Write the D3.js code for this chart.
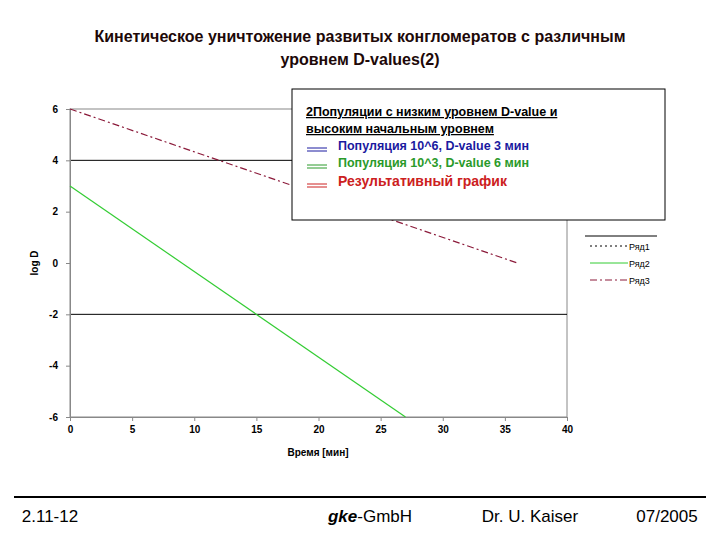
<!DOCTYPE html>
<html><head><meta charset="utf-8">
<script src="https://cdn.jsdelivr.net/npm/d3@7"></script>
<style>body{margin:0;background:#fff}text{font-family:Arial,"Liberation Sans",sans-serif}</style>
</head><body><svg id="c" width="720" height="540"></svg>
<script>
var xTicks = [0, 5, 10, 15, 20, 25, 30, 35, 40];
var yTicks = [-6, -4, -2, 0, 2, 4, 6];
var blackGrid = [4, -2];
var series2 = [[0, 3], [27, -6]];      // Популяция 10^3
var series3 = [[0, 6], [36, 0]];       // результативный
var boxLines = [
  {t: "2Популяции с низким уровнем D-value и", c: "#000", u: true, s: 12.5},
  {t: "высоким начальным уровнем", c: "#000", u: true, s: 12.5},
  {t: "Популяция 10^6, D-value 3 мин", c: "#1a1aa0", s: 12.5, m: true},
  {t: "Популяция 10^3, D-value 6 мин", c: "#2a9a2a", s: 12.5, m: true},
  {t: "Результативный график", c: "#cc2020", s: 14, m: true}
];

var svg = d3.select("#c");
var x = d3.scaleLinear().domain([0, 40]).range([70, 567]);
var y = d3.scaleLinear().domain([-6, 6]).range([417, 109]);

svg.append("text").attr("x", 360).attr("y", 42).attr("text-anchor", "middle")
  .attr("font-size", 16).attr("font-weight", "bold").attr("fill", "#200808")
  .text("Кинетическое уничтожение развитых конгломератов с различным");
svg.append("text").attr("x", 360).attr("y", 65).attr("text-anchor", "middle")
  .attr("font-size", 16).attr("font-weight", "bold").attr("fill", "#200808")
  .text("уровнем D-values(2)");

svg.append("rect").attr("x", 70).attr("y", 109).attr("width", 497).attr("height", 308)
  .attr("fill", "none").attr("stroke", "#888");
svg.selectAll(".g").data(blackGrid).join("line")
  .attr("x1", 70).attr("x2", 567).attr("y1", d => y(d)).attr("y2", d => y(d))
  .attr("stroke", "#000");

var ya = svg.append("g").attr("transform", "translate(70,0)")
  .call(d3.axisLeft(y).tickValues(yTicks).tickFormat(d => String(d)).tickSize(4).tickPadding(8));
var xa = svg.append("g").attr("transform", "translate(0,417)")
  .call(d3.axisBottom(x).tickValues(xTicks).tickFormat(d => String(d)).tickSize(4).tickPadding(5));
[ya, xa].forEach(function(a) {
  a.select(".domain").attr("stroke", "#888");
  a.selectAll("line").attr("stroke", "#888");
  a.selectAll("text").attr("font-size", 10).attr("font-weight", "bold").attr("font-family", "Arial");
});
svg.append("text").attr("x", 318).attr("y", 456).attr("text-anchor", "middle")
  .attr("font-size", 10).attr("font-weight", "bold").text("Время [мин]");
svg.append("text").attr("transform", "translate(38,263) rotate(-90)").attr("text-anchor", "middle")
  .attr("font-size", 10).attr("font-weight", "bold").text("log D");

var line = d3.line().x(d => x(d[0])).y(d => y(d[1]));
svg.append("path").attr("d", line(series2)).attr("fill", "none").attr("stroke", "#33cc33").attr("stroke-width", 1.2);
svg.append("path").attr("d", line(series3)).attr("fill", "none").attr("stroke", "#8b1a3a")
  .attr("stroke-width", 1.2).attr("stroke-dasharray", "7,3,2,3");

// text box
svg.append("rect").attr("x", 292).attr("y", 89).attr("width", 373).attr("height", 131)
  .attr("fill", "#fff").attr("stroke", "#000");
boxLines.forEach(function(l, i) {
  var yy = 116 + i * 17 + (i == 4 ? 2 : 0);
  svg.append("text").attr("x", l.m ? 338 : 306).attr("y", yy).attr("font-size", l.s)
    .attr("font-weight", "bold").attr("fill", l.c)
    .attr("text-decoration", l.u ? "underline" : null).text(l.t);
  if (l.m) {
    [-4, -1].forEach(function(o) {
      svg.append("line").attr("x1", 307).attr("x2", 327).attr("y1", yy + o + 2).attr("y2", yy + o + 2)
        .attr("stroke", l.c).attr("stroke-width", 1);
    });
  }
});

// series legend
svg.append("line").attr("x1", 585).attr("x2", 657).attr("y1", 236).attr("y2", 236).attr("stroke", "#000");
var leg = [{n: "Ряд1", c: "#000", d: "2,3"}, {n: "Ряд2", c: "#33cc33", d: null}, {n: "Ряд3", c: "#8b1a3a", d: "7,3,2,3"}];
leg.forEach(function(l, i) {
  var yy = 246 + i * 17;
  svg.append("line").attr("x1", 590).attr("x2", 628).attr("y1", yy).attr("y2", yy)
    .attr("stroke", l.c).attr("stroke-dasharray", l.d);
  svg.append("text").attr("x", 629).attr("y", yy + 3.5).attr("font-size", 9).text(l.n);
});

// footer
svg.append("line").attr("x1", 14).attr("x2", 706).attr("y1", 497).attr("y2", 497).attr("stroke", "#000").attr("stroke-width", 2);
var ft = [["2.11-12", 50], ["Dr. U. Kaiser", 530], ["07/2005", 667]];
ft.forEach(function(f) {
  svg.append("text").attr("x", f[1]).attr("y", 522).attr("text-anchor", "middle").attr("font-size", 17).text(f[0]);
});
var g = svg.append("text").attr("x", 370).attr("y", 522).attr("text-anchor", "middle").attr("font-size", 17);
g.append("tspan").attr("font-style", "italic").attr("font-weight", "bold").text("gke");
g.append("tspan").text("-GmbH");
</script></body></html>
